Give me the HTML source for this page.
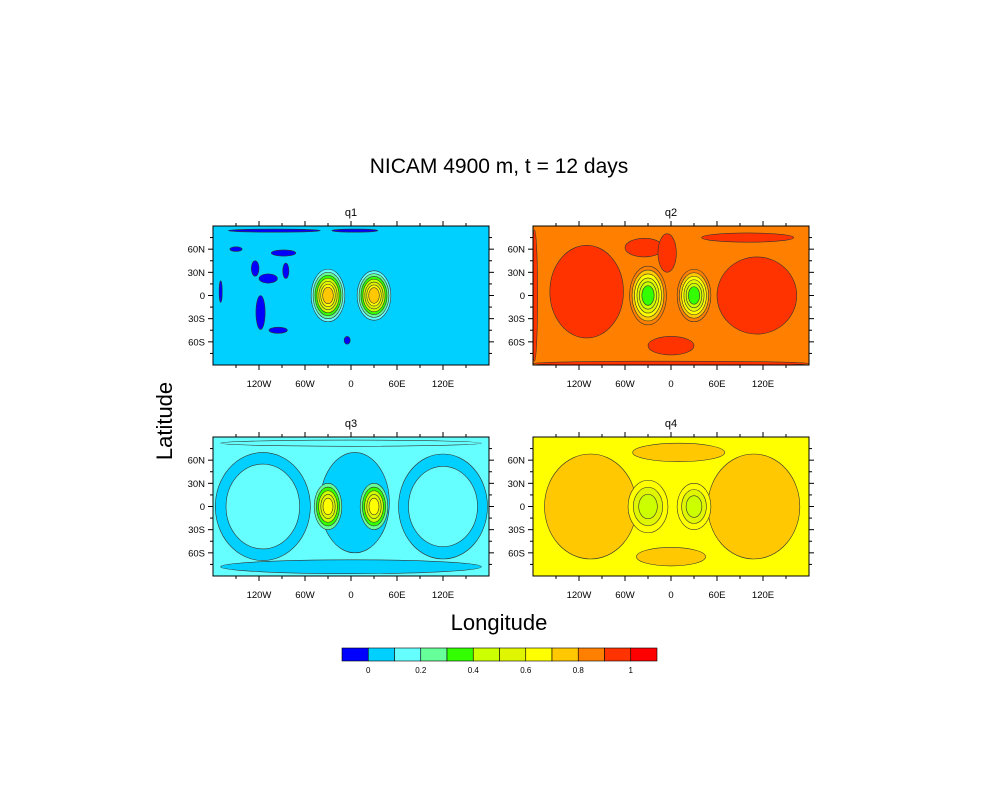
<!DOCTYPE html>
<html><head><meta charset="utf-8"><style>
body{margin:0;background:#fff}
svg text{font-family:"Liberation Sans",sans-serif}
</style></head><body>
<svg id="c" width="1000" height="800" viewBox="0 0 1000 800" xmlns="http://www.w3.org/2000/svg">
<text x="499" y="173" font-size="21" text-anchor="middle">NICAM 4900 m, t = 12 days</text>
<text x="0" y="0" font-size="22" text-anchor="middle" transform="translate(172,421) rotate(-90)">Latitude</text>
<text x="499" y="630" font-size="22" text-anchor="middle">Longitude</text>
<g id="panels"></g>
<g id="cbar"></g>
</svg>
<script>
const levelColors=["#0000ff","#00d0ff","#66ffff","#66ff99","#33ff00","#ccff00","#e0f500","#ffff00","#ffc800","#ff8000","#ff3300","#ff0000"];
const cbarLabels=["0","0.2","0.4","0.6","0.8","1"];
const lonTicks=[-120,-60,0,60,120];
const lonTickLabels=["120W","60W","0","60E","120E"];
const latTicks=[60,30,0,-30,-60];
const latTickLabels=["60N","30N","0","30S","60S"];
const panelNames=["q1","q2","q3","q4"];
const panelBg=[1,9,2,7];
// regions: [panel, colorIndex, lonCenter, latCenter, lonRadius, latRadius]
const regions=[
 [0,0,-125,35,5,10],[0,0,-108,22,12,6],[0,0,-118,-22,6,22],[0,0,-95,-45,12,4],[0,0,-88,55,16,4],[0,0,-170,5,2,14],[0,0,-100,84,60,2],[0,0,-5,-58,4,5],[0,0,-85,32,4,10],[0,0,-150,60,8,3],[0,0,5,84,30,2],
 [1,10,-110,5,48,60],[1,10,112,0,52,50],[1,10,-35,62,25,12],[1,10,0,-65,30,12],[1,10,-5,55,12,25],[1,10,-178,0,4,85],[1,10,0,-88,180,3],[1,10,100,75,60,6],
 [2,1,-115,0,62,70],[2,1,120,0,58,68],[2,1,5,5,45,65],[2,1,0,-78,170,9],[2,2,-115,0,48,55],[2,2,120,0,45,52],[2,2,0,82,170,4],
 [3,8,-105,0,60,68],[3,8,108,0,60,68],[3,8,10,70,60,12],[3,8,0,-65,45,12]
];
// blobs: [panel, lonCenter, latCenter, outerLevel, innerLevel, outerLonR, outerLatR]
const blobs=[
 [0,-30,0,2,8,22,34],[0,30,0,2,8,22,32],
 [1,-30,0,9,4,24,38],[1,30,0,9,4,22,34],
 [2,-30,0,3,7,18,30],[2,30,0,3,7,18,30],
 [3,-30,0,7,5,26,34],[3,30,0,7,5,22,30]
];
const panelPos=[[213,226],[533,226],[213,437],[533,437]];
const PW=276,PH=139;
const NS="http://www.w3.org/2000/svg";
function mk(t,a,p){const e=document.createElementNS(NS,t);for(const k in a)e.setAttribute(k,a[k]);p.appendChild(e);return e;}
const G=document.getElementById('panels');
panelNames.forEach((nm,i)=>{
 const [x0,y0]=panelPos[i];
 const X=lon=>x0+(lon+180)/360*PW, Y=lat=>y0+(90-lat)/180*PH;
 const sx=PW/360, sy=PH/180;
 const g=mk('g',{},G);
 
 
 const cp=mk('clipPath',{id:'cp'+i},g);
 mk('rect',{x:x0,y:y0,width:PW,height:PH},cp);
 const f=mk('g',{'clip-path':'url(#cp'+i+')'},g);
 const bg=mk('rect',{x:x0,y:y0,width:PW,height:PH,fill:levelColors[panelBg[i]]},f);
 
 
 regions.filter(r=>r[0]===i).forEach(r=>{
  const e=mk('ellipse',{cx:X(r[2]),cy:Y(r[3]),rx:r[4]*sx,ry:r[5]*sy,fill:levelColors[r[1]],stroke:'#333','stroke-width':0.6},f);
  
  
 });
 blobs.filter(b=>b[0]===i).forEach(b=>{
  const n=Math.abs(b[4]-b[3]), dir=b[4]>b[3]?1:-1;
  for(let k=0;k<=n;k++){
   const fr=1-k/(n+1)*0.8;
   const e=mk('ellipse',{cx:X(b[1]),cy:Y(b[2]),rx:b[5]*sx*fr,ry:b[6]*sy*fr,fill:levelColors[b[3]+dir*k],stroke:'#333','stroke-width':0.6},f);
   
   
  }
 });
 mk('rect',{x:x0,y:y0,width:PW,height:PH,fill:'none',stroke:'#000','stroke-width':1},g);
 const t=mk('text',{x:X(0),y:y0-10,'font-size':11,'text-anchor':'middle'},g);t.textContent=nm;
 
 
 for(let lon=-150;lon<=150;lon+=30){const maj=lon%60===0;const L=maj?5:3;
  mk('line',{x1:X(lon),x2:X(lon),y1:y0+PH,y2:y0+PH+L,stroke:'#000'},g);
  mk('line',{x1:X(lon),x2:X(lon),y1:y0,y2:y0-L,stroke:'#000'},g);}
 for(let lat=-75;lat<=75;lat+=15){const maj=lat%30===0;const L=maj?5:3;
  mk('line',{x1:x0,x2:x0-L,y1:Y(lat),y2:Y(lat),stroke:'#000'},g);
  mk('line',{x1:x0+PW,x2:x0+PW+L,y1:Y(lat),y2:Y(lat),stroke:'#000'},g);}
 lonTicks.forEach((v,j)=>{const tt=mk('text',{x:X(v),y:y0+PH+22,'font-size':9.5,'text-anchor':'middle'},g);tt.textContent=lonTickLabels[j];
  
  });
 latTicks.forEach((v,j)=>{const tt=mk('text',{x:x0-8,y:Y(v)+3.5,'font-size':9.5,'text-anchor':'end'},g);tt.textContent=latTickLabels[j];
  
  });
});
const CB=document.getElementById('cbar');
const cx0=342,cw=315/levelColors.length,cy0=648;
levelColors.forEach((c,i)=>{const r=mk('rect',{x:cx0+i*cw,y:cy0,width:cw,height:13,fill:c,stroke:'#000','stroke-width':0.6},CB);
 
 });
cbarLabels.forEach((l,j)=>{const t=mk('text',{x:cx0+(1+2*j)*cw,y:cy0+25,'font-size':8,'text-anchor':'middle'},CB);t.textContent=l;
 
 });
</script>
</body></html>
